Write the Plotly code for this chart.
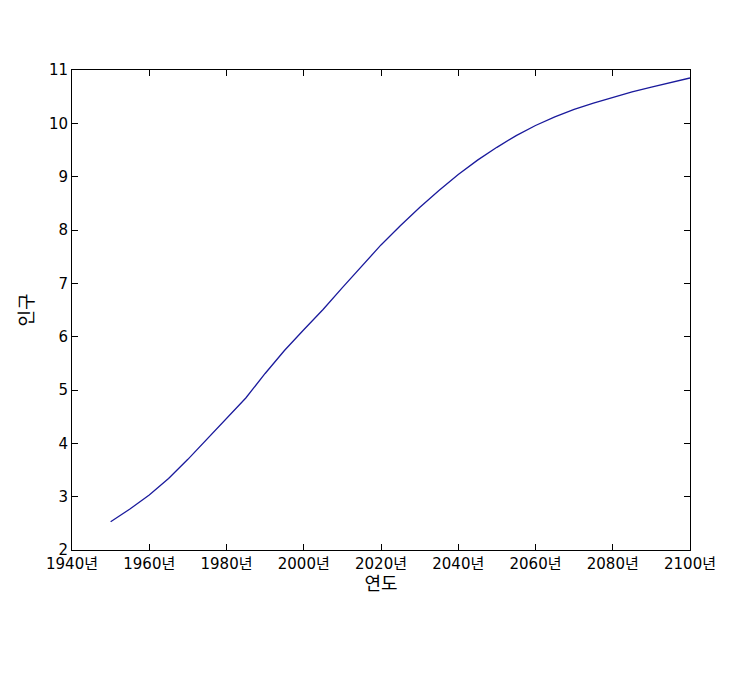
import plotly.graph_objects as go

years = list(range(1950, 2101, 5))
population = [2.53, 2.77, 3.03, 3.34, 3.70, 4.08, 4.45, 4.85, 5.31, 5.74,
              6.13, 6.51, 6.92, 7.32, 7.72, 8.08, 8.42, 8.74, 9.04, 9.31,
              9.55, 9.77, 9.96, 10.12, 10.26, 10.38, 10.49, 10.59, 10.68, 10.76, 10.85]
tick_years = list(range(1940, 2101, 20))
tick_labels = [f"{y}년" for y in tick_years]

fig = go.Figure(go.Scatter(x=years, y=population, mode="lines",
                           line=dict(color="#1a1a9c", width=1.3)))

axis_common = dict(showline=True, linecolor="black", linewidth=1, mirror="ticks",
                   ticks="inside", ticklen=6, tickcolor="black",
                   showgrid=False, zeroline=False)
fig.update_xaxes(range=[1940, 2100], tickvals=tick_years, ticktext=tick_labels,
                 title=dict(text="연도", standoff=4), **axis_common)
fig.update_yaxes(range=[2, 11], dtick=1,
                 title=dict(text="인구", standoff=10), **axis_common)
fig.update_layout(width=750, height=680, plot_bgcolor="white", paper_bgcolor="white",
                  margin=dict(l=64, r=68, t=62, b=138), showlegend=False,
                  font=dict(family="DejaVu Sans, Noto Sans CJK KR", size=15, color="black"))
fig.write_html("out.html")
